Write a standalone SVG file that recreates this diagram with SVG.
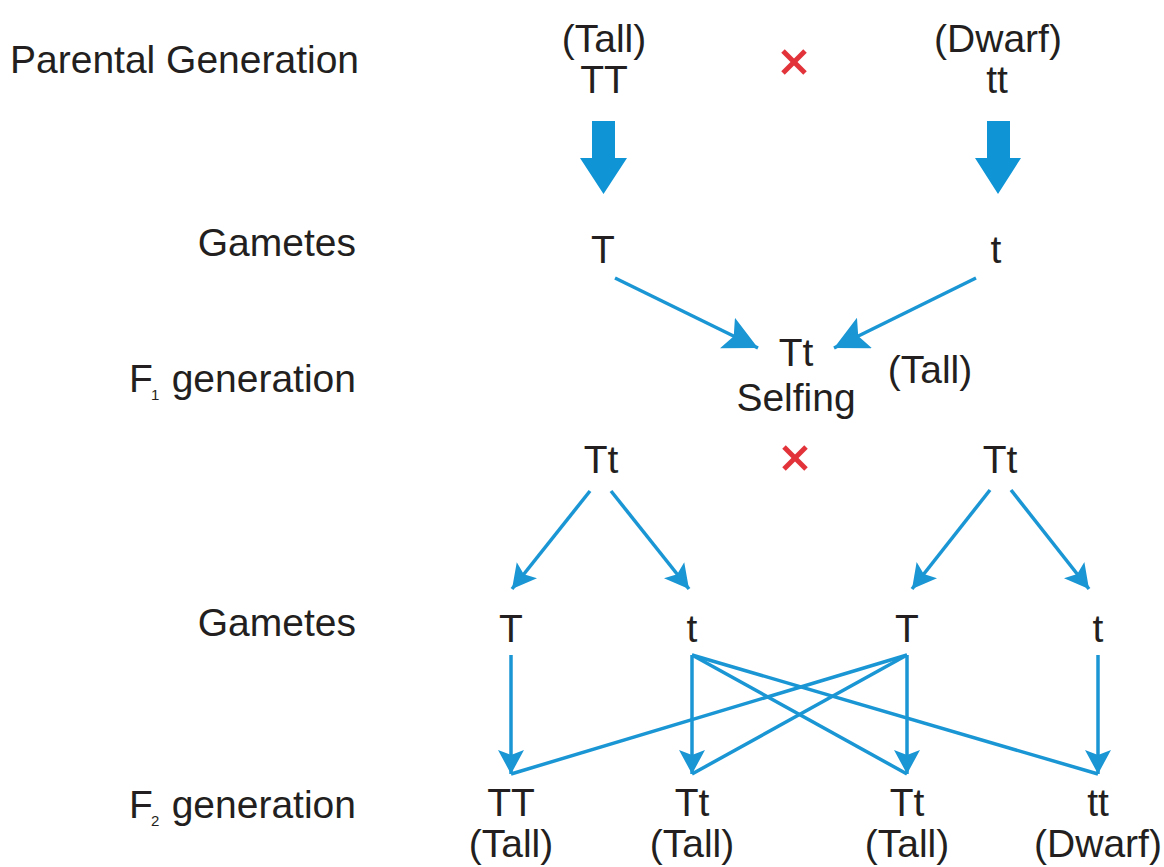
<svg xmlns="http://www.w3.org/2000/svg" width="1164" height="867" viewBox="0 0 1164 867">
<style>
  text { font-family: "Liberation Sans", Arial, sans-serif; fill: #231f20; font-size: 39px; }
  .c { text-anchor: middle; }
  .r { text-anchor: end; }
  .sub { font-size: 15px; }
  .ln { stroke: #1a96d4; stroke-width: 3.5; fill: none; }
  .cross { stroke: #e2333a; stroke-width: 5; }
  .block { fill: #0f95d6; }
</style>
<defs>
  <marker id="ahLg" markerUnits="userSpaceOnUse" markerWidth="34" markerHeight="34" viewBox="0 0 34 34" refX="34" refY="17" orient="auto">
    <path d="M0,0 L34,17 L0,34 L7,17 z" fill="#1a96d4"/>
  </marker>
  <marker id="ahSm" markerUnits="userSpaceOnUse" markerWidth="24" markerHeight="26" viewBox="0 0 24 26" refX="24" refY="13" orient="auto">
    <path d="M0,0 L24,13 L0,26 L5,13 z" fill="#1a96d4"/>
  </marker>
</defs>
<rect width="1164" height="867" fill="#ffffff"/>

<g id="labels">
  <text x="10" y="73">Parental Generation</text>
  <text class="r" x="356" y="256">Gametes</text>
  <text x="129" y="392">F</text><text class="sub" x="151" y="400">1</text><text class="r" x="356" y="392">generation</text>
  <text class="r" x="356" y="636">Gametes</text>
  <text x="129" y="818">F</text><text class="sub" x="151" y="826">2</text><text class="r" x="356" y="818">generation</text>
</g>

<g id="parent-tall"><text class="c" x="604" y="52">(Tall)</text><text class="c" x="604" y="93">TT</text></g>
<g id="parent-cross"><line class="cross" x1="783" y1="51" x2="805" y2="73"/><line class="cross" x1="805" y1="51" x2="783" y2="73"/></g>
<g id="parent-dwarf"><text class="c" x="998" y="52">(Dwarf)</text><text class="c" x="997" y="93">tt</text></g>

<g id="gamete-T"><text class="c" x="603" y="263">T</text></g>
<g id="gamete-t"><text class="c" x="996" y="263">t</text></g>

<g id="f1"><text class="c" x="796" y="366">Tt</text><text class="c" x="796" y="411">Selfing</text><text class="c" x="930" y="383">(Tall)</text></g>

<g id="f1-left"><text class="c" x="601" y="473">Tt</text></g>
<g id="f1-cross"><line class="cross" x1="784" y1="447" x2="806" y2="469"/><line class="cross" x1="806" y1="447" x2="784" y2="469"/></g>
<g id="f1-right"><text class="c" x="1000" y="473">Tt</text></g>

<g id="g2-T1"><text class="c" x="511" y="642">T</text></g>
<g id="g2-t1"><text class="c" x="692" y="642">t</text></g>
<g id="g2-T2"><text class="c" x="907" y="642">T</text></g>
<g id="g2-t2"><text class="c" x="1098" y="642">t</text></g>

<g id="f2-TT"><text class="c" x="511" y="816">TT</text><text class="c" x="511" y="857">(Tall)</text></g>
<g id="f2-Tt1"><text class="c" x="692" y="816">Tt</text><text class="c" x="692" y="857">(Tall)</text></g>
<g id="f2-Tt2"><text class="c" x="907" y="816">Tt</text><text class="c" x="907" y="857">(Tall)</text></g>
<g id="f2-tt"><text class="c" x="1098" y="816">tt</text><text class="c" x="1098" y="857">(Dwarf)</text></g>

<g id="connectors">
  <polygon class="block" points="592,121 615,121 615,158 627,158 603.5,194 580,158 592,158"/>
  <polygon class="block" points="987,121 1010,121 1010,158 1021,158 998,194 975,158 987,158"/>

  <line class="ln" x1="615" y1="278" x2="758" y2="348" marker-end="url(#ahLg)"/>
  <line class="ln" x1="976" y1="278" x2="834" y2="348" marker-end="url(#ahLg)"/>

  <line class="ln" x1="590" y1="491" x2="512" y2="589" marker-end="url(#ahSm)"/>
  <line class="ln" x1="611" y1="491" x2="689" y2="589" marker-end="url(#ahSm)"/>
  <line class="ln" x1="990" y1="490" x2="912" y2="589" marker-end="url(#ahSm)"/>
  <line class="ln" x1="1011" y1="490" x2="1089" y2="589" marker-end="url(#ahSm)"/>

  <line class="ln" x1="692" y1="655" x2="907" y2="774"/>
  <line class="ln" x1="692" y1="655" x2="1098" y2="774"/>
  <line class="ln" x1="907" y1="655" x2="511" y2="774"/>
  <line class="ln" x1="907" y1="655" x2="692" y2="774"/>

  <line class="ln" x1="511" y1="655" x2="511" y2="774" marker-end="url(#ahSm)"/>
  <line class="ln" x1="692" y1="655" x2="692" y2="774" marker-end="url(#ahSm)"/>
  <line class="ln" x1="907" y1="655" x2="907" y2="774" marker-end="url(#ahSm)"/>
  <line class="ln" x1="1098" y1="655" x2="1098" y2="774" marker-end="url(#ahSm)"/>
</g>
</svg>
